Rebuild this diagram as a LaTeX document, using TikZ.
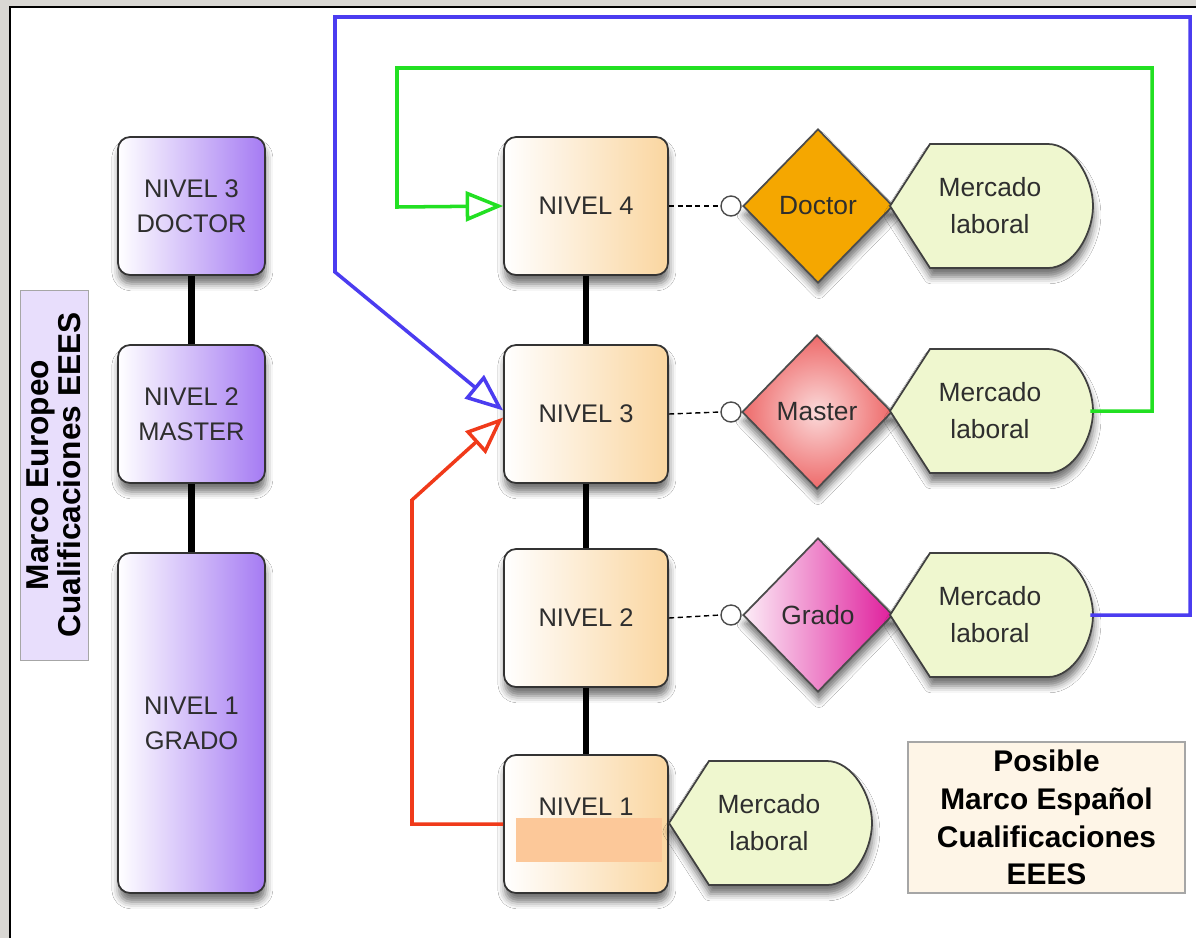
\documentclass[tikz,border=0pt]{standalone}
\usepackage{fontspec}
\setmainfont{Liberation Sans}
\usetikzlibrary{shapes.geometric,shadows.blur,arrows.meta}

\definecolor{marco}{HTML}{D9D7D3}
\definecolor{texto}{HTML}{2E2E2E}
\definecolor{lila}{HTML}{A57BF3}
\definecolor{naranja}{HTML}{FAD6A0}
\definecolor{doctor}{HTML}{F5A700}
\definecolor{master}{HTML}{EE6A6A}
\definecolor{grado}{HTML}{DF1E9C}
\definecolor{mercado}{HTML}{EFF7CF}
\definecolor{mascara}{HTML}{FCC899}
\definecolor{azul}{HTML}{4B3CF0}
\definecolor{verde}{HTML}{22E022}
\definecolor{rojo}{HTML}{F03A1A}

\tikzset{
	sombra/.style={blur shadow={shadow xshift=0.5pt,shadow yshift=-5pt,
		shadow blur radius=4pt,shadow opacity=55}},
	caja/.style={draw=black!80,line width=1pt,rounded corners=0.24cm,sombra,
		text=texto,align=center,font=\fontsize{14.5}{20}\selectfont},
	euro/.style={caja,minimum width=2.94cm,minimum height=2.76cm,
		left color=white,right color=lila},
	nivel/.style={caja,minimum width=3.28cm,minimum height=2.76cm,
		left color=white,right color=naranja},
	rombo/.style={diamond,draw=black!70,line width=1pt,sombra,inner sep=0pt,
		minimum width=3cm,minimum height=3.08cm,text=texto,
		font=\fontsize{15}{20}\selectfont},
	enlace/.style={circle,draw=black!70,fill=white,line width=0.8pt,
		minimum size=0.4cm,inner sep=0pt},
	mercadoforma/.style={draw=black!75,line width=1pt,fill=mercado,sombra},
	mercadotexto/.style={minimum width=4cm,minimum height=2.48cm,align=center,
		text=texto,font=\fontsize{15}{21}\selectfont},
	flecha/.style={line width=2pt,-{Triangle[open,length=7.5mm,width=6mm]}},
	negro/.style={line width=3.5pt},
}

\begin{document}
\begin{tikzpicture}[x=0.02cm,y=-0.02cm]
\useasboundingbox (0,0) rectangle (1196,951);

%Fondo
\fill[white] (0,0) rectangle (1196,951);
\fill[marco] (0,0) rectangle (1196,7);
\fill[marco] (0,0) rectangle (10,938);
\draw[line width=1pt] (10,938) -- (10,7) -- (1196,7);

%Marco europeo
\node[draw=black!35,fill=lila!25,rotate=90,minimum width=7.4cm,minimum height=1.36cm,
	inner sep=1pt,align=center,font=\fontsize{18}{18.5}\selectfont\bfseries]
	(europa) at (54,475) {Marco Europeo\\Cualificaciones EEES};

\node[euro] (eu3) at (191.5,206) {NIVEL 3\\DOCTOR};
\node[euro] (eu2) at (191.5,414) {NIVEL 2\\MASTER};
\node[euro,minimum height=6.8cm] (eu1) at (191.5,723) {NIVEL 1\\GRADO};

\draw[negro] (eu3.south) -- (eu2.north);
\draw[negro] (eu2.south) -- (eu1.north);

%Niveles
\foreach \n/\y in
{
4/206,
3/414,
2/618
}
{
	\node[nivel] (n\n) at (586,\y) {NIVEL \n};
}
\node[nivel] (n1) at (586,824) {NIVEL 1\\\mbox{}};
\fill[mascara] (516,818) rectangle (662,862);

\draw[negro] (n4.south) -- (n3.north);
\draw[negro] (n3.south) -- (n2.north);
\draw[negro] (n2.south) -- (n1.north);

%Titulos
\node[rombo,fill=doctor] (d4) at (818,206) {Doctor};
\node[rombo,inner color=master!25,outer color=master] (d3) at (817,412) {Master};
\node[rombo,left color=grado!8,right color=grado] (d2) at (818,615) {Grado};

\foreach \n/\y in
{
4/206,
3/412,
2/615
}
{
	\node[enlace] (c\n) at (731,\y) {};
	\draw[line width=0.8pt,dash pattern=on 3pt off 2pt] (n\n.east) -- (c\n.west);
}

%Mercado laboral
\foreach \m/\x/\y in
{
4/993/206,
3/993/411,
2/993/615,
1/772/823
}
{
	\path[mercadoforma] (\x-103,\y) -- (\x-63,\y-62) -- (\x+55,\y-62)
		.. controls (\x+80,\y-62) and (\x+100,\y-28) .. (\x+100,\y)
		.. controls (\x+100,\y+28) and (\x+80,\y+62) .. (\x+55,\y+62)
		-- (\x-63,\y+62) -- cycle;
	\node[mercadotexto] (m\m) at (\x-3,\y) {Mercado\\laboral};
}

%Marco espanol
\node[draw=black!35,line width=1pt,fill=naranja!25,minimum width=5.54cm,minimum height=3.02cm,
	align=center,font=\fontsize{17}{21.5}\selectfont\bfseries]
	(espanol) at (1046.5,817.5) {Posible\\Marco Español\\Cualificaciones\\EEES};

%Flechas
\draw[flecha,azul] (m2.east) -| (1190,17) -| (335,272) -- ([yshift=2pt]n3.west);
\draw[flecha,verde] (m3.east) -| (1152,68) -| (397,207) -- (n4.west);
\draw[flecha,rojo] (n1.west) -| (412,500) -- ([yshift=-2pt]n3.west);

\end{tikzpicture}
\end{document}
